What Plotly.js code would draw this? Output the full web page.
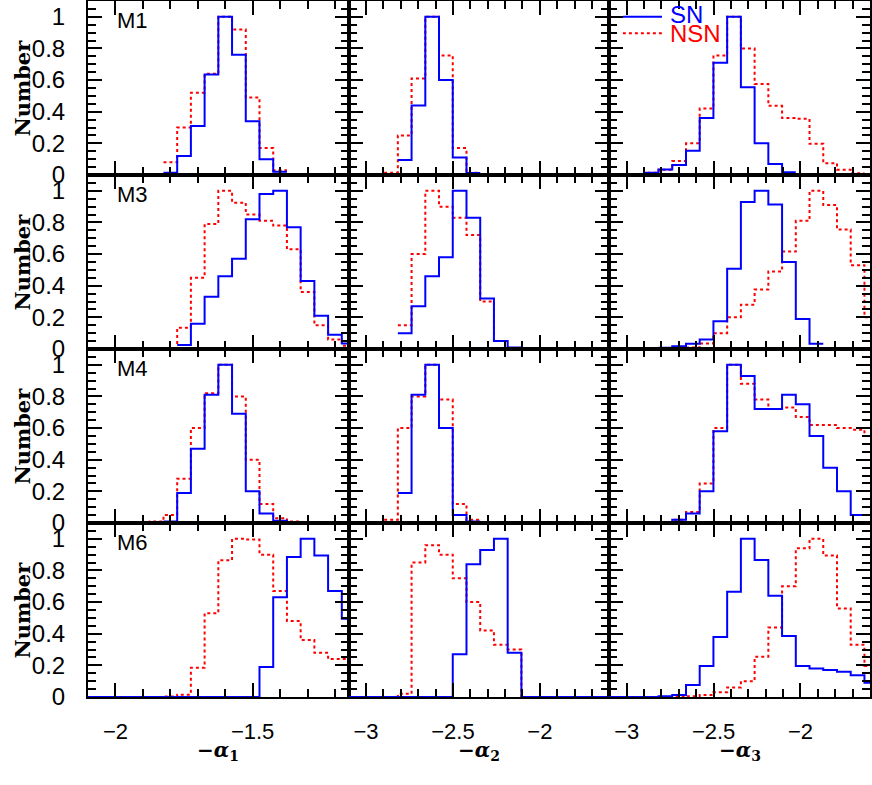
<!DOCTYPE html>
<html>
<head>
<meta charset="utf-8">
<script src="https://cdn.plot.ly/plotly-3.0.1.min.js"></script>
<style>body{margin:0;background:#fff}</style>
</head>
<body>
<div id="plot" style="width:872px;height:785px"></div>
<script>
var models = ["M1", "M3", "M4", "M6"];

// bin grids: left edge of bin 0 and bin width
var a1Edge0 = -2.125, a1Width = 0.05;
var a23Edge0 = -3.133, a23Width = 0.079;

// alpha1, one array per model (M1, M3, M4, M6)
var snA1Start = [6, 7, 6, 0];
var snA1 = [
  [0.015, 0.12, 0.31, 0.635, 1.0, 0.76, 0.34, 0.10, 0.02],
  [0.025, 0.16, 0.33, 0.46, 0.57, 0.82, 0.98, 1.0, 0.77, 0.43, 0.21, 0.09, 0.035],
  [0.01, 0.19, 0.47, 0.81, 1.0, 0.69, 0.20, 0.06, 0.015, 0.005],
  [0, 0, 0, 0, 0, 0, 0, 0, 0, 0, 0, 0, 0, 0.19, 0.63, 0.885, 1.0, 0.895, 0.67, 0.495]
];
var nsnA1Start = [6, 6, 4, 0];
var nsnA1 = [
  [0.08, 0.30, 0.52, 0.64, 1.0, 0.92, 0.49, 0.17, 0.03],
  [0.005, 0.135, 0.45, 0.79, 1.0, 0.925, 0.85, 0.81, 0.78, 0.63, 0.36, 0.15, 0.06, 0.02],
  [0.005, 0.01, 0.05, 0.28, 0.6, 0.82, 1.0, 0.80, 0.40, 0.12, 0.03, 0.01],
  [0, 0, 0, 0, 0, 0, 0.003, 0.015, 0.185, 0.53, 0.865, 1.0, 0.995, 0.90, 0.67, 0.48, 0.36, 0.28, 0.24, 0.24]
];

// alpha2
var snA2Start = [4, 4, 4, 0];
var snA2 = [
  [0.095, 0.44, 1.0, 0.6, 0.11, 0.013],
  [0.1, 0.27, 0.46, 0.58, 1.0, 0.83, 0.32, 0.05, 0.01],
  [0.19, 0.81, 1.0, 0.6, 0.05, 0.01],
  [0, 0, 0, 0, 0, 0, 0, 0, 0.27, 0.84, 0.93, 1.0, 0.28, 0, 0, 0, 0, 0, 0, 0]
];
var nsnA2Start = [3, 4, 3, 0];
var nsnA2 = [
  [0.015, 0.25, 0.61, 1.0, 0.755, 0.17, 0.015],
  [0.15, 0.6, 1.0, 0.9, 0.83, 0.72, 0.3, 0.05],
  [0.02, 0.6, 0.8, 1.0, 0.78, 0.12, 0.02],
  [0, 0, 0, 0, 0.02, 0.85, 0.96, 0.9, 0.75, 0.6, 0.42, 0.33, 0.3, 0, 0, 0, 0, 0, 0, 0]
];

// alpha3
var snA3Start = [2, 4, 4, 0];
var snA3 = [
  [0.005, 0.014, 0.035, 0.064, 0.153, 0.36, 0.71, 1.0, 0.555, 0.20, 0.07, 0.018],
  [0.008, 0.018, 0.033, 0.06, 0.176, 0.507, 0.93, 1.0, 0.913, 0.55, 0.19, 0.033],
  [0.005, 0.02, 0.06, 0.2, 0.58, 1.0, 0.93, 0.72, 0.72, 0.81, 0.75, 0.55, 0.35, 0.2, 0.05],
  [0, 0, 0, 0, 0.005, 0.013, 0.076, 0.196, 0.38, 0.665, 1.0, 0.866, 0.64, 0.386, 0.196, 0.18, 0.17, 0.16, 0.137, 0.09]
];
var nsnA3Start = [2, 6, 4, 0];
var nsnA3 = [
  [0.005, 0.014, 0.033, 0.088, 0.20, 0.42, 0.755, 1.0, 0.80, 0.576, 0.437, 0.36, 0.355, 0.197, 0.075, 0.033, 0.011],
  [0.01, 0.035, 0.10, 0.20, 0.28, 0.376, 0.49, 0.616, 0.81, 1.0, 0.91, 0.755, 0.53, 0.20],
  [0.005, 0.02, 0.07, 0.25, 0.6, 1.0, 0.88, 0.78, 0.72, 0.73, 0.67, 0.62, 0.62, 0.60, 0.59, 0.55],
  [0, 0, 0, 0, 0, 0, 0.005, 0.013, 0.03, 0.06, 0.10, 0.255, 0.44, 0.70, 0.94, 1.0, 0.895, 0.56, 0.33, 0.196]
];

var xRanges = [[-2.1, -1.15], [-3.1, -1.6], [-3.1, -1.6]];
var xTick0 = [-2, -3, -3];
var xTitles = ["<b>\u2212<i>\u03b1</i><sub>1</sub></b>", "<b>\u2212<i>\u03b1</i><sub>2</sub></b>", "<b>\u2212<i>\u03b1</i><sub>3</sub></b>"];
var yTitle = "<b>Number</b>";

var tickFamily = "Liberation Sans Narrow, Liberation Sans, Arial, sans-serif";
var serif = "DejaVu Serif, Liberation Serif, serif";

function steps(edge0, w, start, vals) {
  var xs = [], ys = [];
  for (var i = 0; i < vals.length; i++) {
    xs.push(edge0 + (start + i) * w);
    ys.push(vals[i]);
  }
  xs.push(edge0 + (start + vals.length) * w);
  ys.push(vals[vals.length - 1]);
  return {x: xs, y: ys};
}

var cols = [
  {edge0: a1Edge0, w: a1Width, sn: snA1, snS: snA1Start, nsn: nsnA1, nsnS: nsnA1Start},
  {edge0: a23Edge0, w: a23Width, sn: snA2, snS: snA2Start, nsn: nsnA2, nsnS: nsnA2Start},
  {edge0: a23Edge0, w: a23Width, sn: snA3, snS: snA3Start, nsn: nsnA3, nsnS: nsnA3Start}
];

var data = [];
var layout = {
  width: 872, height: 785,
  margin: {l: 88, r: 2, t: 1, b: 88},
  showlegend: false,
  paper_bgcolor: "white", plot_bgcolor: "white",
  annotations: [], shapes: []
};

for (var r = 0; r < 4; r++) {
  for (var c = 0; c < 3; c++) {
    var n = r * 3 + c + 1;
    var sfx = n > 1 ? String(n) : "";
    var col = cols[c];
    var s1 = steps(col.edge0, col.w, col.snS[r], col.sn[r]);
    var s2 = steps(col.edge0, col.w, col.nsnS[r], col.nsn[r]);
    data.push({x: s2.x, y: s2.y, xaxis: "x" + sfx, yaxis: "y" + sfx, mode: "lines",
      line: {shape: "hv", color: "red", width: 2, dash: "dot"}, hoverinfo: "skip"});
    data.push({x: s1.x, y: s1.y, xaxis: "x" + sfx, yaxis: "y" + sfx, mode: "lines",
      line: {shape: "hv", color: "blue", width: 2}, hoverinfo: "skip"});

    layout["xaxis" + sfx] = {
      domain: [c / 3, (c + 1) / 3], anchor: "y" + sfx,
      range: xRanges[c], tickmode: "linear", tick0: xTick0[c], dtick: 0.5,
      ticks: "inside", ticklen: 14, tickwidth: 2, tickcolor: "black",
      minor: {tickmode: "linear", tick0: xTick0[c], dtick: 0.1, ticks: "inside", ticklen: 8, tickwidth: 2, tickcolor: "black"},
      showline: true, linecolor: "black", linewidth: 2, mirror: "allticks",
      showgrid: false, zeroline: false,
      showticklabels: r === 3, ticklabelstandoff: 14,
      tickfont: {family: tickFamily, size: 22, color: "black"}
    };
    layout["yaxis" + sfx] = {
      domain: [1 - (r + 1) / 4, 1 - r / 4], anchor: "x" + sfx,
      range: [0, 1.1], tickmode: "linear", tick0: 0, dtick: 0.2,
      ticks: "inside", ticklen: 14, tickwidth: 2, tickcolor: "black",
      minor: {tickmode: "linear", tick0: 0, dtick: 0.05, ticks: "inside", ticklen: 8, tickwidth: 2, tickcolor: "black"},
      showline: true, linecolor: "black", linewidth: 2, mirror: "allticks",
      showgrid: false, zeroline: false,
      showticklabels: c === 0, ticklabelstandoff: 16,
      tickfont: {family: tickFamily, size: 24, color: "black"}
    };
    if (c === 0) {
      layout.annotations.push({
        xref: "x" + sfx + " domain", yref: "y" + sfx + " domain",
        x: 0.103, y: 0.89, xanchor: "left", yanchor: "middle", showarrow: false,
        text: models[r], font: {family: tickFamily, size: 22, color: "black"}
      });
      layout.annotations.push({
        xref: "paper", yref: "y" + sfx + " domain",
        x: -0.085, y: 0.5, xanchor: "center", yanchor: "middle", showarrow: false, textangle: -90,
        text: yTitle, font: {family: serif, size: 21, color: "black"}
      });
    }
    if (r === 3) {
      layout.annotations.push({
        xref: "x" + sfx + " domain", yref: "paper",
        x: 0.5, y: -0.077, xanchor: "center", yanchor: "middle", showarrow: false,
        text: xTitles[c], font: {family: serif, size: 20, color: "black"}
      });
    }
  }
}

// legend drawn by hand in the top-right panel
layout.shapes.push({type: "line", xref: "paper", yref: "paper", x0: 0.684, x1: 0.734, y0: 0.9774, y1: 0.9774,
  line: {color: "blue", width: 2}});
layout.shapes.push({type: "line", xref: "paper", yref: "paper", x0: 0.684, x1: 0.734, y0: 0.9536, y1: 0.9536,
  line: {color: "red", width: 2, dash: "dot"}});
layout.annotations.push({xref: "paper", yref: "paper", x: 0.7417, y: 0.9813, xanchor: "left", yanchor: "middle",
  showarrow: false, text: "SN", font: {family: tickFamily, size: 24, color: "blue"}});
layout.annotations.push({xref: "paper", yref: "paper", x: 0.7417, y: 0.9536, xanchor: "left", yanchor: "middle",
  showarrow: false, text: "NSN", font: {family: tickFamily, size: 24, color: "red"}});

Plotly.newPlot("plot", data, layout, {staticPlot: true});
</script>
</body>
</html>
